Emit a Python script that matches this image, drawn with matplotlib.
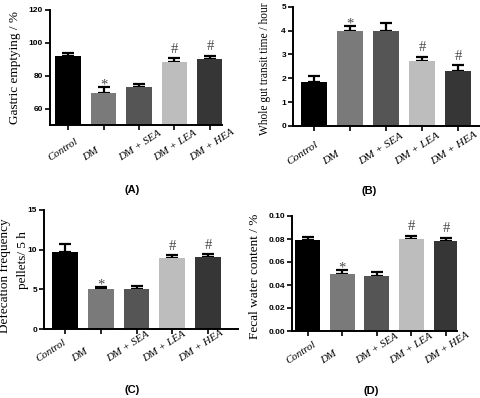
import numpy as np
import matplotlib.pyplot as plt
from matplotlib.transforms import ScaledTranslation, blended_transform_factory

groups = ['Control', 'DM', 'DM + SEA', 'DM + LEA', 'DM + HEA']
colors = ['#000000', '#7a7a7a', '#555555', '#bdbdbd', '#363636']
marks = ['', '*', '', '#', '#']

gastric = [92.2, 69.5, 73.2, 88.3, 90.0]
gastric_err = [1.5, 3.4, 1.7, 2.2, 2.1]
transit = [1.84, 4.0, 3.97, 2.73, 2.31]
transit_err = [0.26, 0.19, 0.36, 0.17, 0.23]
defec = [9.7, 5.0, 5.0, 8.98, 9.13]
defec_err = [1.0, 0.28, 0.4, 0.32, 0.28]
fecal = [0.0787, 0.0499, 0.048, 0.0802, 0.0782]
fecal_err = [0.0033, 0.0031, 0.0035, 0.0024, 0.0027]

W, H = 480, 398
plt.rcParams['font.family'] = 'Liberation Sans'
fig = plt.figure(figsize=(W / 100, H / 100), dpi=100)


def px_axes(l, r, t, b):
    return fig.add_axes([l / W, 1 - b / H, (r - l) / W, (b - t) / H])


# pixel box (l, r, top, bottom), data, limits, ticks, ylabel lines, tag, label offsets
panels = [
    dict(box=(50, 222, 10, 125), v=gastric, e=gastric_err, ylim=(50, 120), xlim=(-0.51, 4.34),
         yt=[60, 80, 100, 120], fmt='{:g}', lab=[('Gastric emptying / %', 15, 67, 9.5)],
         tag=('(A)', 132, 190), lx=-18, lb=36, lfs=7.8),
    dict(box=(293, 480, 6.7, 126), v=transit, e=transit_err, ylim=(0, 5), xlim=(-0.58, 4.61),
         yt=[0, 1, 2, 3, 4, 5], fmt='{:g}', lab=[('Whole gut transit time / hour', 265, 69, 8.3)],
         tag=('(B)', 369, 191), lx=-25, lb=39, lfs=8.2),
    dict(box=(44, 238, 210, 329), v=defec, e=defec_err, ylim=(0, 15), xlim=(-0.59, 4.84),
         yt=[0, 5, 10, 15], fmt='{:g}',
         lab=[('Defecation frequency', 5, 276, 9.5), ('pellets/ 5 h', 23, 260, 9.5)],
         tag=('(C)', 132, 390), lx=-27, lb=33, lfs=7.8),
    dict(box=(292, 457, 216, 331), v=fecal, e=fecal_err, ylim=(0, 0.1), xlim=(-0.46, 4.32),
         yt=[0, 0.02, 0.04, 0.06, 0.08, 0.10], fmt='{:.2f}',
         lab=[('Fecal water content / %', 255, 276, 9.5)],
         tag=('(D)', 371, 391), lx=-19, lb=33, lfs=7.8),
]

x = np.arange(len(groups))
for p in panels:
    ax = px_axes(*p['box'])
    vals, errs = p['v'], p['e']
    ax.bar(x, vals, width=0.72, color=colors, zorder=2)
    ax.errorbar(x, vals, yerr=[np.zeros(len(vals)), errs], fmt='none', ecolor='black',
                elinewidth=1.6, capsize=4.5, capthick=1.6, zorder=1)
    for xi, v, e, m in zip(x, vals, errs, marks):
        if m:
            ax.annotate(m, (xi, v + e), xytext=(0, 4 if m == '#' else -1), textcoords='offset points',
                        ha='center', va='baseline', family='Liberation Serif',
                        fontsize=10.5, color='#4a4a4a')
    ax.set_xlim(*p['xlim'])
    ax.set_ylim(*p['ylim'])
    ax.set_yticks(p['yt'])
    ax.set_yticklabels([p['fmt'].format(t) for t in p['yt']], fontsize=6, fontweight='bold')
    ax.set_xticks(x)
    ax.set_xticklabels([])
    ax.spines['top'].set_visible(False)
    ax.spines['right'].set_visible(False)
    for s in ['left', 'bottom']:
        ax.spines[s].set_linewidth(1.4)
    ax.tick_params(width=1.2, length=3.5, pad=1.5)

    # rotated group labels, anchored at their lower-left corner
    tr = blended_transform_factory(ax.transData, ax.transAxes)
    for xi, g in zip(x, groups):
        off = ScaledTranslation(p['lx'] / 100, -p['lb'] / 100, fig.dpi_scale_trans)
        ax.text(xi, 0, g, transform=tr + off, rotation=33, rotation_mode='anchor',
                ha='left', va='baseline', family='Liberation Serif', style='italic',
                fontsize=p['lfs'], clip_on=False)

    for txt, lx, ly, fs in p['lab']:
        fig.text(lx / W, 1 - ly / H, txt, rotation=90, ha='center', va='center',
                 family='Liberation Serif', fontsize=fs)
    t, tx, ty = p['tag']
    fig.text(tx / W, 1 - ty / H, t, ha='center', va='center', fontsize=8, fontweight='bold')

fig.savefig('out.png', dpi=100)
